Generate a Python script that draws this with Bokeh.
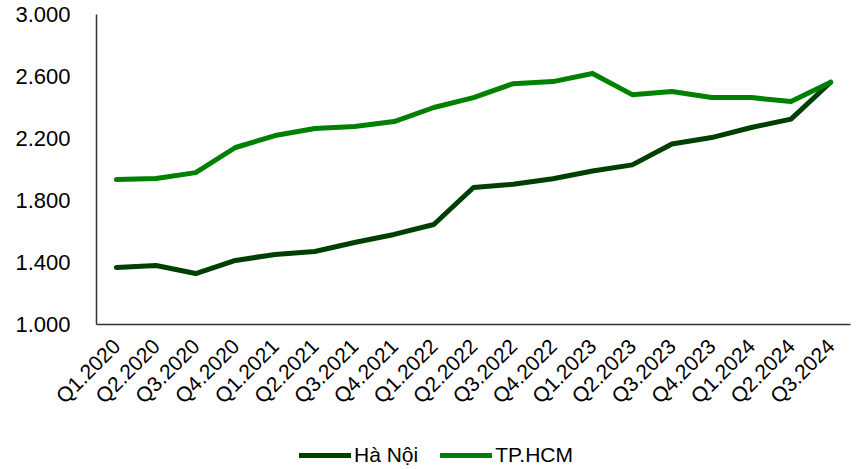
from bokeh.plotting import figure
from bokeh.models import FixedTicker, Legend, LegendItem, ColumnDataSource, Range1d
from bokeh.layouts import column
from bokeh.embed import file_html
from bokeh.resources import INLINE
import math

quarters = ["Q1.2020", "Q2.2020", "Q3.2020", "Q4.2020", "Q1.2021", "Q2.2021", "Q3.2021",
            "Q4.2021", "Q1.2022", "Q2.2022", "Q3.2022", "Q4.2022", "Q1.2023", "Q2.2023",
            "Q3.2023", "Q4.2023", "Q1.2024", "Q2.2024", "Q3.2024"]
ha_noi = [1368, 1381, 1329, 1413, 1452, 1471, 1529, 1581, 1645, 1884, 1905, 1940,
          1990, 2030, 2165, 2206, 2271, 2325, 2563]
tp_hcm = [1935, 1942, 1980, 2142, 2219, 2264, 2277, 2309, 2400, 2464, 2554, 2567,
          2619, 2483, 2503, 2464, 2464, 2438, 2563]
y_ticks = [1000, 1400, 1800, 2200, 2600, 3000]
y_tick_labels = ["1.000", "1.400", "1.800", "2.200", "2.600", "3.000"]

FONT = "Liberation Sans"
C_HN = "#003f00"
C_HCM = "#008000"

src = ColumnDataSource(dict(q=quarters, hn=ha_noi, hcm=tp_hcm))

p = figure(x_range=quarters, y_range=Range1d(1000, 3000), width=852, height=430,
           output_backend="svg", toolbar_location=None,
           min_border_left=96, min_border_right=2, min_border_top=14, min_border_bottom=106)
p.outline_line_color = None
p.grid.visible = False

p.line("q", "hn", source=src, line_color=C_HN, line_width=5, line_join="round", line_cap="round")
p.line("q", "hcm", source=src, line_color=C_HCM, line_width=5, line_join="round", line_cap="round")

ya = p.yaxis[0]
ya.ticker = FixedTicker(ticks=y_ticks)
ya.major_label_overrides = {t: l for t, l in zip(y_ticks, y_tick_labels)}
ya.major_tick_line_color = None
ya.minor_tick_line_color = None
ya.major_label_standoff = 20
ya.axis_line_color = "#333333"
ya.axis_line_width = 1.5
ya.major_label_text_font = FONT
ya.major_label_text_font_size = "22px"
ya.major_label_text_color = "#000000"

xa = p.xaxis[0]
xa.major_tick_line_color = None
xa.minor_tick_line_color = None
xa.major_label_orientation = math.pi / 4
xa.major_label_standoff = 12
xa.axis_line_color = "#333333"
xa.axis_line_width = 1.5
xa.major_label_text_font = FONT
xa.major_label_text_font_size = "21px"
xa.major_label_text_color = "#000000"

# legend strip below the chart (its lines fall outside its own y range, so only the legend shows)
lf = figure(x_range=quarters, y_range=Range1d(0, 1), width=852, height=38,
            output_backend="svg", toolbar_location=None, x_axis_type=None, y_axis_type=None,
            min_border_left=0, min_border_right=0, min_border_top=0, min_border_bottom=0)
lf.outline_line_color = None
lf.grid.visible = False
l_hn = lf.line("q", "hn", source=src, line_color=C_HN, line_width=5, line_cap="round")
l_hcm = lf.line("q", "hcm", source=src, line_color=C_HCM, line_width=5, line_cap="round")

legend = Legend(items=[LegendItem(label="Hà Nội", renderers=[l_hn]),
                       LegendItem(label="TP.HCM", renderers=[l_hcm])],
                orientation="horizontal", location=(203, 1),
                label_text_font=FONT, label_text_font_size="21px", label_text_color="#000000",
                glyph_width=52, glyph_height=20, label_standoff=3, spacing=22, padding=0, margin=0,
                border_line_color=None, background_fill_alpha=0)
lf.add_layout(legend)

open("out.html", "w").write(file_html(column(p, lf), INLINE))
